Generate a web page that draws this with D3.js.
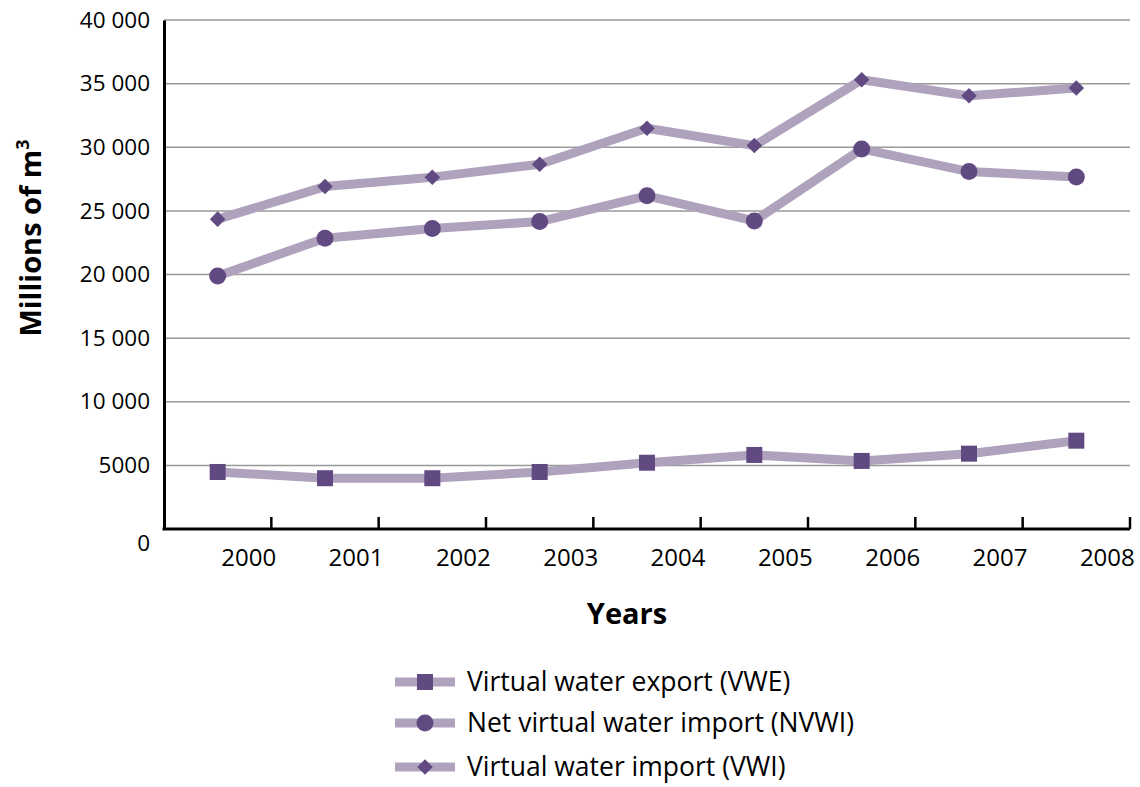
<!DOCTYPE html>
<html>
<head>
<meta charset="utf-8">
<script src="https://cdn.jsdelivr.net/npm/d3@7"></script>
<style>
  body { margin: 0; background: #fff; }
  svg text { font-family: "Open Sans", "Noto Sans", sans-serif; fill: #000; }
</style>
</head>
<body>
<div id="chart"></div>
<script>
// chart data
var years = ['2000', '2001', '2002', '2003', '2004', '2005', '2006', '2007', '2008']
var vwe = [4480, 3990, 3990, 4480, 5210, 5820, 5350, 5920, 6940]
var nvwi = [19890, 22850, 23610, 24160, 26180, 24210, 29870, 28090, 27670]
var vwi = [24350, 26910, 27650, 28670, 31490, 30130, 35300, 34040, 34650]
var yTicks = [0, 5000, 10000, 15000, 20000, 25000, 30000, 35000, 40000]

var series = [
    { name: 'Virtual water export (VWE)', values: vwe, symbol: 'square' },
    { name: 'Net virtual water import (NVWI)', values: nvwi, symbol: 'circle' },
    { name: 'Virtual water import (VWI)', values: vwi, symbol: 'diamond' }
]

var width = 1140
var height = 787
var margin = { left: 164, right: 10, top: 20, bottom: 258 }

var lineColor = '#afa2bd'
var markColor = '#614a82'

var svg = d3.select('#chart')
    .append('svg')
    .attr('width', width)
    .attr('height', height)

var x = d3.scaleBand()
    .domain(years)
    .range([margin.left, width - margin.right])

var y = d3.scaleLinear()
    .domain([0, 40000])
    .range([height - margin.bottom, margin.top])

var fmt = function (d) {
    if (d < 10000) return String(d)
    return d3.format(',')(d).replace(',', ' ')
}

// gridlines
svg.append('g')
    .selectAll('line')
    .data(yTicks.slice(1))
    .enter()
    .append('line')
    .attr('x1', margin.left)
    .attr('x2', width - margin.right)
    .attr('y1', function (d) { return y(d) })
    .attr('y2', function (d) { return y(d) })
    .attr('stroke', '#999')
    .attr('stroke-width', 1.5)

// y axis
var yAxis = svg.append('g')
    .attr('transform', 'translate(' + margin.left + ',0)')
    .call(d3.axisLeft(y).tickValues(yTicks).tickSize(0).tickPadding(14).tickFormat(fmt))
yAxis.select('.domain').attr('stroke', '#000').attr('stroke-width', 3)
yAxis.selectAll('text')
    .style('font-size', '22.5px')
    .attr('dy', function (d) { return d === 0 ? '0.95em' : '0.32em' })

// x axis
var x0 = height - margin.bottom
var xAxis = svg.append('g')
    .attr('transform', 'translate(0,' + x0 + ')')
svg.append('line')
    .attr('x1', margin.left - 1.5)
    .attr('x2', width - margin.right)
    .attr('y1', x0)
    .attr('y2', x0)
    .attr('stroke', '#000')
    .attr('stroke-width', 3)
xAxis.selectAll('line.tick')
    .data(years)
    .enter()
    .append('line')
    .attr('class', 'tick')
    .attr('x1', function (d) { return x(d) + x.bandwidth() })
    .attr('x2', function (d) { return x(d) + x.bandwidth() })
    .attr('y1', 0)
    .attr('y2', -12)
    .attr('stroke', '#000')
    .attr('stroke-width', 2.5)
xAxis.selectAll('text')
    .data(years)
    .enter()
    .append('text')
    .attr('x', function (d) { return x(d) + x.bandwidth() / 2 + 31 })
    .attr('y', 37)
    .attr('text-anchor', 'middle')
    .style('font-size', '24px')
    .text(function (d) { return d })

// axis titles
svg.append('text')
    .attr('x', 627)
    .attr('y', 624)
    .attr('text-anchor', 'middle')
    .style('font-size', '29px')
    .style('font-weight', 'bold')
    .text('Years')

var ytitle = svg.append('text')
    .attr('transform', 'translate(41,238) rotate(-90)')
    .attr('text-anchor', 'middle')
    .style('font-size', '29px')
    .style('font-weight', 'bold')
ytitle.append('tspan').text('Millions of m')
ytitle.append('tspan').attr('dy', -12).style('font-size', '18px').text('3')

// lines and markers
var line = d3.line()
    .x(function (d, i) { return x(years[i]) + x.bandwidth() / 2 })
    .y(function (d) { return y(d) })

function drawMarker(g, s, cx, cy) {
    if (s.symbol === 'square') {
        g.append('rect')
            .attr('x', cx - 8).attr('y', cy - 8)
            .attr('width', 16).attr('height', 16)
            .attr('fill', markColor)
    } else if (s.symbol === 'circle') {
        g.append('circle')
            .attr('cx', cx).attr('cy', cy).attr('r', 8.5)
            .attr('fill', markColor)
    } else {
        g.append('rect')
            .attr('x', -5.5).attr('y', -5.5)
            .attr('width', 11).attr('height', 11)
            .attr('transform', 'translate(' + cx + ',' + cy + ') rotate(45)')
            .attr('fill', markColor)
    }
}

series.forEach(function (s) {
    var g = svg.append('g')
    g.append('path')
        .datum(s.values)
        .attr('d', line)
        .attr('fill', 'none')
        .attr('stroke', lineColor)
        .attr('stroke-width', 9)
        .attr('stroke-linejoin', 'round')
    s.values.forEach(function (v, i) {
        drawMarker(g, s, x(years[i]) + x.bandwidth() / 2, y(v))
    })
})

// legend
var legendY = [682, 723, 767]
series.forEach(function (s, i) {
    var g = svg.append('g')
    g.append('line')
        .attr('x1', 395).attr('x2', 455)
        .attr('y1', legendY[i]).attr('y2', legendY[i])
        .attr('stroke', lineColor)
        .attr('stroke-width', 9)
    drawMarker(g, s, 425, legendY[i])
    g.append('text')
        .attr('x', 467)
        .attr('y', legendY[i])
        .attr('dy', '0.35em')
        .style('font-size', '26.5px')
        .text(s.name)
})
</script>
</body>
</html>
